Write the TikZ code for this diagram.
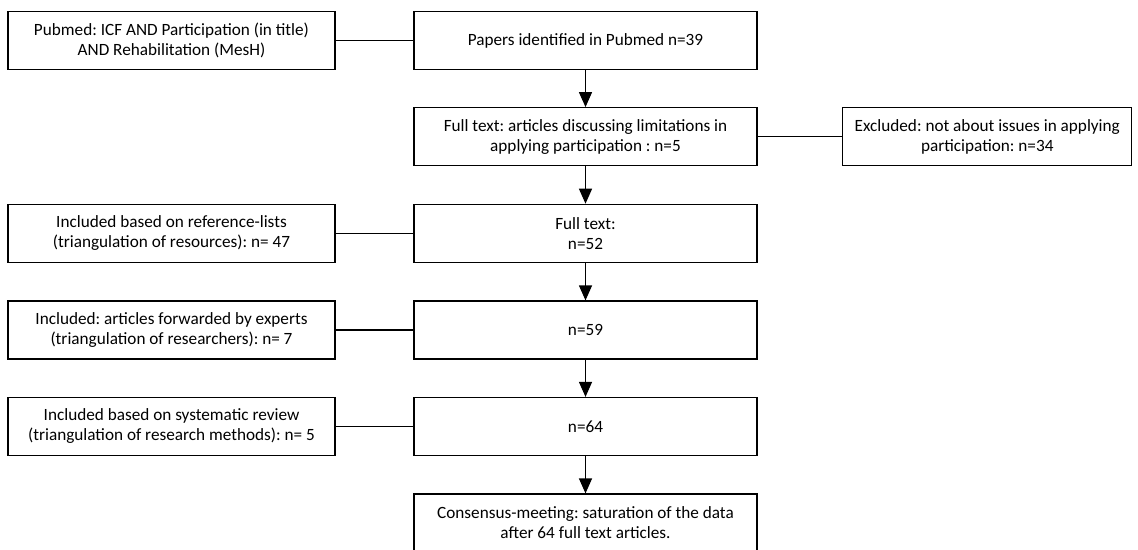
\documentclass[tikz,border=0pt]{standalone}
\usepackage{fontspec}
\setmainfont{Carlito}
\usetikzlibrary{arrows.meta}
\frenchspacing
\begin{document}
\begin{tikzpicture}[x=1pt,y=-1pt,
  box/.style={draw, line width=1.2pt, minimum height=58pt, align=center,
              font=\fontsize{17.2}{20}\selectfont, inner sep=0pt},
  lbox/.style={box, minimum width=327pt},
  cbox/.style={box, minimum width=343pt},
  ebox/.style={box, minimum width=289pt},
  link/.style={line width=1.2pt},
  arr/.style={link, -{Triangle[length=15pt,width=13pt]}}]
\useasboundingbox (0,0) rectangle (1138,549);
\fill[white] (0,0) rectangle (1138,549);

\node[lbox] (s1) at (171.5,40.5) {Pubmed: ICF AND Participation (in title)\\AND Rehabilitation (MesH)};
\node[cbox] (c1) at (585.5,40.5) {Papers identified in Pubmed n=39};
\node[cbox] (c2) at (585.5,136.7) {Full text: articles discussing limitations in\\applying participation : n=5};
\node[ebox] (e2) at (987.3,136.7) {Excluded: not about issues in applying\\participation: n=34};
\node[lbox] (s3) at (171.5,233.3) {Included based on reference-lists\\(triangulation of resources): n= 47};
\node[cbox] (c3) at (585.5,233.3) {Full text:\\n=52};
\node[lbox] (s4) at (171.5,330) {Included: articles forwarded by experts\\(triangulation of researchers): n= 7};
\node[cbox] (c4) at (585.5,330) {n=59};
\node[lbox] (s5) at (171.5,426.5) {Included based on systematic review\\(triangulation of research methods): n= 5};
\node[cbox] (c5) at (585.5,426.5) {n=64};
\node[cbox] (c6) at (585.5,523) {Consensus-meeting: saturation of the data\\after 64 full text articles.};

\draw[link] (s1) -- (c1);
\draw[link] (c2) -- (e2);
\draw[link] (s3) -- (c3);
\draw[link] (s4) -- (c4);
\draw[link] (s5) -- (c5);
\draw[arr] (c1) -- (c2);
\draw[arr] (c2) -- (c3);
\draw[arr] (c3) -- (c4);
\draw[arr] (c4) -- (c5);
\draw[arr] (c5) -- (c6);
\end{tikzpicture}
\end{document}
